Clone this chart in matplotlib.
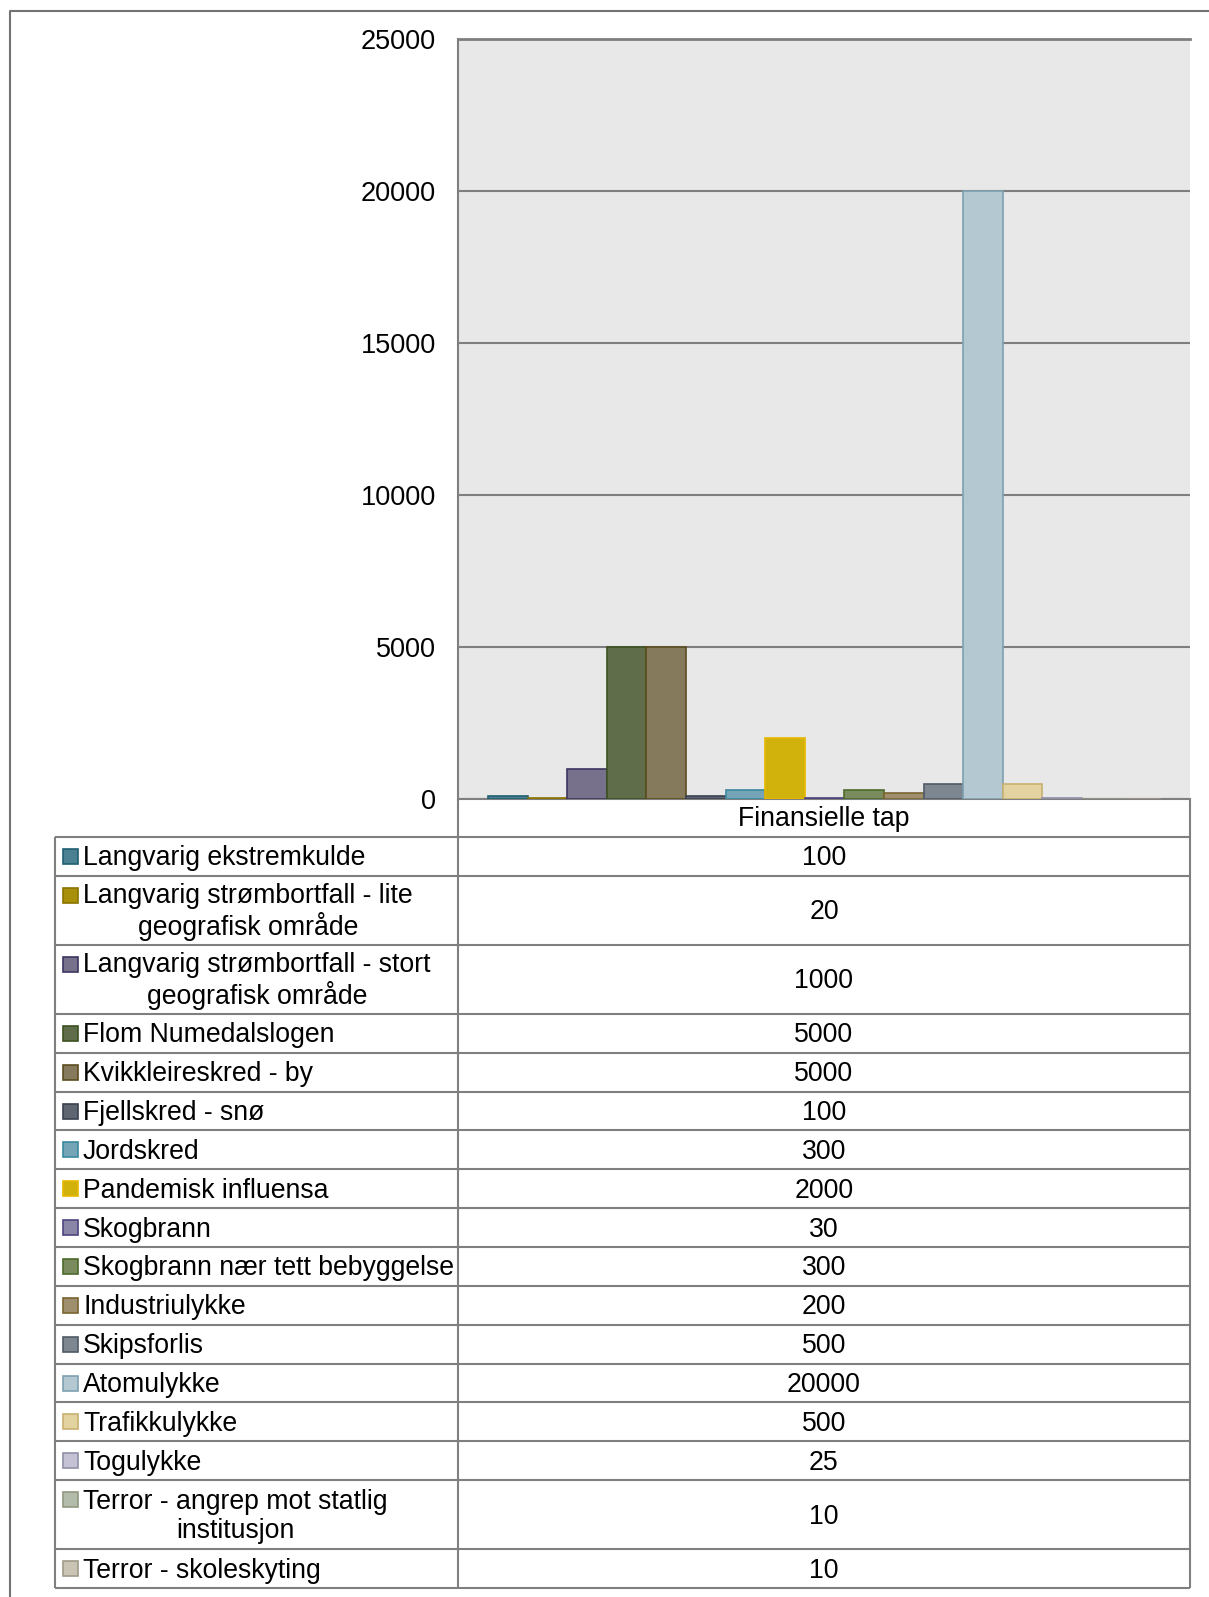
import matplotlib.pyplot as plt
from matplotlib.patches import Rectangle

plt.rcParams['font.family'] = ['Liberation Sans', 'DejaVu Sans']

series_name = 'Finansielle tap'
categories = [
    'Langvarig ekstremkulde',
    'Langvarig strømbortfall - lite\ngeografisk område',
    'Langvarig strømbortfall - stort\ngeografisk område',
    'Flom Numedalslogen',
    'Kvikkleireskred - by',
    'Fjellskred - snø',
    'Jordskred',
    'Pandemisk influensa',
    'Skogbrann',
    'Skogbrann nær tett bebyggelse',
    'Industriulykke',
    'Skipsforlis',
    'Atomulykke',
    'Trafikkulykke',
    'Togulykke',
    'Terror - angrep mot statlig\ninstitusjon',
    'Terror - skoleskyting',
]
values = [100, 20, 1000, 5000, 5000, 100, 300, 2000, 30, 300, 200, 500,
          20000, 500, 25, 10, 10]
fills = ['#4b7f92', '#a8900a', '#77718b', '#5f6d4b', '#857a5c', '#5f6671',
         '#74a4b5', '#d1b10c', '#8a86a8', '#7a8b5e', '#9f8f6e', '#7e8690',
         '#b4c8d2', '#e3d3a0', '#c4c2d4', '#b3bcaa', '#cac4b4']
edges = ['#1f5f73', '#8a7400', '#3d3560', '#3d5220', '#5c4d1f', '#3a4150',
         '#3a8aa0', '#e6b800', '#4d4580', '#4d6a2a', '#7a6530', '#505a68',
         '#7fa0b0', '#c8b070', '#9090a8', '#909a80', '#a09a88']
yticks = [0, 5000, 10000, 15000, 20000, 25000]

W, H = 1209, 1597
FS = 19.2
GRID = '#7f7f7f'

fig = plt.figure(figsize=(W / 100, H / 100), dpi=100)

# pixel canvas for the outer frame and the data table
bg = fig.add_axes([0, 0, 1, 1])
bg.set_xlim(0, W)
bg.set_ylim(H, 0)
bg.axis('off')

# chart area
px_l, px_r, px_t, px_b = 458, 1190, 39, 799
ax = fig.add_axes([px_l / W, (H - px_b) / H, (px_r - px_l) / W, (px_b - px_t) / H])
n = len(values)
bw = 0.0541
xs = [-0.459 + bw * (i + 0.5) for i in range(n)]
ax.bar(xs, values, width=bw, color=fills, edgecolor=edges, linewidth=1.2, zorder=3)
ax.set_xlim(-0.5, 0.5)
ax.set_ylim(0, 25000)
ax.set_facecolor('#e8e8e8')
ax.set_yticks(yticks)
ax.set_yticklabels([str(t) for t in yticks])
ax.set_xticks([])
ax.yaxis.grid(True, color=GRID, lw=1.5)
ax.set_axisbelow(True)
ax.tick_params(axis='y', length=0, pad=16, labelsize=19.5)
for s in ['left', 'bottom', 'top']:
    ax.spines[s].set_color(GRID)
    ax.spines[s].set_linewidth(1.5)
ax.spines['top'].set_linewidth(2)
ax.spines['right'].set_visible(False)

# outer frame
bg.plot([10, 10, W], [H, 11, 11], color='#737373', lw=1.5, solid_capstyle='butt')

# data table below the chart
tab_l = 55
single, double = 38.86, 69
bounds = [837]
for c in categories:
    bounds.append(bounds[-1] + (double if '\n' in c else single))

lk = dict(color=GRID, lw=1.5, solid_capstyle='butt')
bg.plot([px_l, px_l], [px_b, bounds[-1]], **lk)
bg.plot([px_r, px_r], [px_b, bounds[-1]], **lk)
bg.plot([tab_l, tab_l], [bounds[0], bounds[-1]], **lk)
for y in bounds:
    bg.plot([tab_l, px_r], [y, y], **lk)

col_c = (px_l + px_r) / 2
bg.text(col_c, (px_b + bounds[0]) / 2 + 1, series_name, ha='center', va='center',
        fontsize=FS)

for i, (c, v) in enumerate(zip(categories, values)):
    top, bot = bounds[i], bounds[i + 1]
    mid = (top + bot) / 2
    first = mid - 15 if '\n' in c else mid
    bg.add_patch(Rectangle((63, first - 7.5), 15, 15, facecolor=fills[i],
                           edgecolor=edges[i], lw=1.2))
    bg.text(83, mid + 2, c, ha='left', va='center', multialignment='center',
            fontsize=FS, linespacing=1.12)
    bg.text(col_c, mid + 2, str(v), ha='center', va='center', fontsize=FS)

fig.savefig('out.png', dpi=100)
